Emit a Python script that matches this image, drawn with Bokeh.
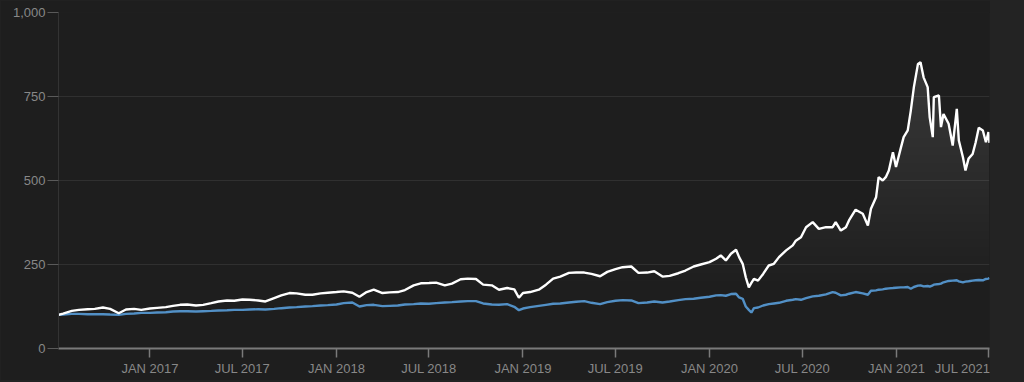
import numpy as np
import pandas as pd
from bokeh.plotting import figure
from bokeh.models import FixedTicker, NumeralTickFormatter, Range1d
from bokeh.embed import file_html
from bokeh.resources import INLINE

# ---------------- data ----------------
dates = [
    "2016-07-06", "2016-07-15", "2016-08-01", "2016-08-15", "2016-09-01", "2016-09-15",
    "2016-10-01", "2016-10-15", "2016-11-01", "2016-11-15", "2016-12-01", "2016-12-15",
    "2017-01-01", "2017-01-15", "2017-02-01", "2017-02-15", "2017-03-01", "2017-03-15",
    "2017-04-01", "2017-04-15", "2017-05-01", "2017-05-15", "2017-06-01", "2017-06-15",
    "2017-07-01", "2017-07-15", "2017-08-01", "2017-08-15", "2017-09-01", "2017-09-15",
    "2017-10-01", "2017-10-15", "2017-11-01", "2017-11-15", "2017-12-01", "2017-12-15",
    "2018-01-01", "2018-01-15", "2018-02-01", "2018-02-15", "2018-03-01", "2018-03-15",
    "2018-04-01", "2018-04-15", "2018-05-01", "2018-05-15", "2018-06-01", "2018-06-15",
    "2018-07-01", "2018-07-15", "2018-08-01", "2018-08-15", "2018-09-01", "2018-09-15",
    "2018-10-01", "2018-10-15", "2018-11-01", "2018-11-15", "2018-12-01", "2018-12-15",
    "2018-12-24",
    "2019-01-01", "2019-01-15", "2019-02-01", "2019-02-15", "2019-03-01", "2019-03-15",
    "2019-04-01", "2019-04-15", "2019-05-01", "2019-05-15", "2019-06-01", "2019-06-15",
    "2019-07-01", "2019-07-15", "2019-08-01", "2019-08-15", "2019-09-01", "2019-09-15",
    "2019-10-01", "2019-10-15", "2019-11-01", "2019-11-15", "2019-12-01", "2019-12-15",
    "2020-01-01", "2020-01-14", "2020-01-23", "2020-02-02", "2020-02-12", "2020-02-22",
    "2020-02-28", "2020-03-06", "2020-03-12", "2020-03-18", "2020-03-23", "2020-03-28",
    "2020-04-05", "2020-04-15", "2020-04-26", "2020-05-06", "2020-05-16", "2020-05-30",
    "2020-06-12", "2020-06-18", "2020-06-28", "2020-07-08", "2020-07-21", "2020-08-02",
    "2020-08-16", "2020-08-29", "2020-09-04", "2020-09-14", "2020-09-24", "2020-09-30",
    "2020-10-13", "2020-10-27", "2020-11-06", "2020-11-12", "2020-11-22", "2020-11-27",
    "2020-12-05", "2020-12-11", "2020-12-17", "2020-12-25", "2020-12-31",
    "2021-01-09", "2021-01-15", "2021-01-23", "2021-01-29", "2021-02-04", "2021-02-12",
    "2021-02-17", "2021-02-23", "2021-03-03", "2021-03-07", "2021-03-13", "2021-03-15",
    "2021-03-25", "2021-03-29", "2021-04-03", "2021-04-13", "2021-04-21", "2021-04-29",
    "2021-05-03", "2021-05-11", "2021-05-16", "2021-05-22", "2021-05-30", "2021-06-05",
    "2021-06-11", "2021-06-19", "2021-06-25", "2021-06-30", "2021-07-02",
]

fund = [
    100, 104, 112, 115, 117, 118, 122, 118, 105, 116, 118, 115,
    119, 121, 123, 127, 130, 131, 128, 130, 135, 140, 143, 142,
    146, 145, 143, 140, 150, 158, 165, 164, 160, 160, 164, 166,
    168, 170, 166, 154, 168, 175, 165, 167, 168, 174, 188, 194,
    195, 196, 188, 193, 206, 208, 207, 190, 188, 175, 180, 176,
    151,
    165, 168, 175, 190, 208, 214, 225, 226, 226, 222, 215, 228,
    236, 242, 244, 225, 226, 230, 214, 216, 224, 232, 244, 250,
    257, 267, 277, 262, 282, 294, 272, 252, 212, 182, 195, 207,
    202, 222, 247, 252, 272, 292, 307, 321, 331, 361, 376, 356,
    361, 361, 376, 351, 361, 381, 413, 401, 366, 416, 450, 510,
    500, 510, 530, 584, 540,
    594, 629, 649, 708, 778, 847, 852, 807, 778, 688, 629, 748,
    753, 659, 698, 669, 604, 713, 619, 569, 530, 565, 579, 614,
    657, 649, 614, 644, 612,
]

benchmark = [
    100, 101, 103, 103, 102, 102, 102, 101, 100, 103, 104, 106,
    106, 107, 108, 110, 111, 111, 110, 111, 112, 113, 114, 115,
    115, 116, 117, 116, 118, 120, 122, 123, 125, 126, 128, 129,
    131, 135, 137, 125, 129, 130, 126, 127, 128, 131, 132, 134,
    133, 135, 137, 138, 140, 141, 141, 134, 131, 130, 132, 124,
    114,
    119, 123, 127, 130, 133, 134, 137, 139, 141, 136, 132, 138,
    142, 144, 143, 135, 137, 140, 137, 140, 144, 147, 148, 151,
    154, 158, 159, 157, 162, 163, 152, 148, 125, 115, 107, 120,
    122, 128, 132, 134, 136, 142, 145, 147, 145, 150, 155, 157,
    161, 168, 166, 158, 160, 163, 168, 164, 160, 172, 173, 175,
    176, 178, 179, 180, 181,
    182, 182, 183, 178, 183, 187, 188, 185, 186, 184, 188, 190,
    192, 193, 197, 201, 202, 203, 200, 197, 199, 200, 202, 203,
    204, 203, 207, 208, 210,
]

tick_dates = ["2017-01-01", "2017-07-01", "2018-01-01", "2018-07-01", "2019-01-01",
              "2019-07-01", "2020-01-01", "2020-07-01", "2021-01-01", "2021-07-01"]
tick_labels = ["JAN 2017", "JUL 2017", "JAN 2018", "JUL 2018", "JAN 2019",
               "JUL 2019", "JAN 2020", "JUL 2020", "JAN 2021", "JUL 2021"]
y_ticks = [0, 250, 500, 750, 1000]

# ---------------- styling ----------------
BG = "#1e1e1e"
GRID = "#303030"
LABEL = "#888888"
FONT = "Liberation Sans"

x = pd.to_datetime(dates)
fund_arr = np.array(fund, dtype=float)

def ms(d):
    return pd.Timestamp(d).value / 1e6

p = figure(width=990, height=380, x_axis_type="datetime",
           output_backend="svg", toolbar_location=None,
           x_range=Range1d(x[0], pd.Timestamp("2021-07-02")),
           y_range=Range1d(0, 1000),
           min_border_left=58, min_border_right=1, min_border_top=12, min_border_bottom=32)
p.background_fill_color = BG
p.border_fill_color = BG
p.outline_line_color = None

# gradient under the fund line (stacked translucent layers)
levels = list(range(200, 875, 25))
for L in levels:
    lo = np.minimum(fund_arr, L)
    p.varea(x=x, y1=lo, y2=fund_arr, fill_color="white", fill_alpha=0.007)

p.line(x, benchmark, line_color="#5290c6", line_width=2.4)
p.line(x, fund, line_color="#ffffff", line_width=2.4)

# grids
p.xgrid.grid_line_color = None
p.ygrid.grid_line_color = GRID
p.ygrid.grid_line_width = 1

# y axis
p.yaxis.ticker = FixedTicker(ticks=y_ticks)
p.yaxis.formatter = NumeralTickFormatter(format="0,0")
p.yaxis.axis_line_color = "#333333"
p.yaxis.major_tick_line_color = "#5a5a5a"
p.yaxis.major_tick_in = 0
p.yaxis.major_tick_out = 11
p.yaxis.minor_tick_line_color = None
p.yaxis.major_label_standoff = 2
p.yaxis.major_label_text_color = LABEL
p.yaxis.major_label_text_font = FONT
p.yaxis.major_label_text_font_size = "13px"

# x axis
tick_ms = [ms(d) for d in tick_dates]
p.xaxis.ticker = FixedTicker(ticks=tick_ms)
p.xaxis.major_label_overrides = {t: lab for t, lab in zip(tick_ms, tick_labels)}
p.xaxis.axis_line_color = "#7a7a7a"
p.xaxis.axis_line_width = 2
p.xaxis.major_tick_line_color = "#7a7a7a"
p.xaxis.major_tick_line_width = 1.5
p.xaxis.major_tick_in = 0
p.xaxis.major_tick_out = 9
p.xaxis.minor_tick_line_color = None
p.xaxis.major_label_standoff = 3
p.xaxis.major_label_text_color = LABEL
p.xaxis.major_label_text_font = FONT
p.xaxis.major_label_text_font_size = "13px"

html = file_html(p, INLINE, title="chart")
html = html.replace("</head>", "<style>html,body{background:#232323;}</style></head>", 1)
open("out.html", "w").write(html)
